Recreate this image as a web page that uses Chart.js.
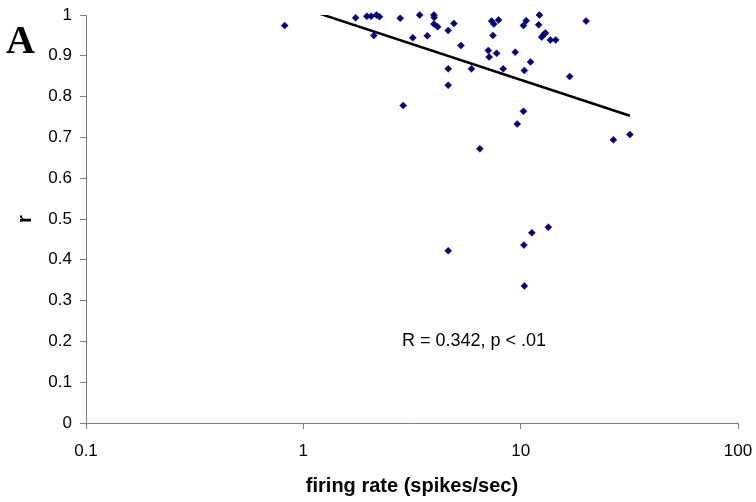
<!DOCTYPE html>
<html>
<head>
<meta charset="utf-8">
<script src="https://cdn.jsdelivr.net/npm/chart.js@4.4.1/dist/chart.umd.min.js"></script>
<style>
  html, body { margin: 0; padding: 0; background: #fff; }
  #wrap { width: 756px; height: 502px; position: relative; }
</style>
</head>
<body>
<div id="wrap"><canvas id="scatter"></canvas></div>
<script>
// firing rate (spikes/sec) per cell
var firingRate = [
    0.82, 1.74, 1.96, 2.05, 2.17, 2.24, 2.11, 2.79, 2.88, 3.19,
    3.43, 3.72, 3.99, 4.0, 3.99, 4.15, 4.64, 4.93, 5.31, 4.64,
    4.64, 5.94, 7.1, 7.16, 7.35, 7.53, 7.91, 7.45, 7.75, 8.31,
    9.44, 10.4, 11.1, 10.3, 10.6, 12.2, 12.1, 12.5, 12.8, 13.0,
    13.7, 14.5, 20.0, 16.8, 10.3, 9.64, 6.49, 26.7, 31.8, 4.64,
    10.35, 11.26, 13.4, 10.4
];
// correlation r per cell
var corrR = [
    0.974, 0.993, 0.997, 0.997, 1.0, 0.996, 0.950, 0.992, 0.778, 0.944,
    1.0, 0.949, 1.0, 0.994, 0.978, 0.971, 0.962, 0.979, 0.925, 0.868,
    0.828, 0.868, 0.913, 0.897, 0.985, 0.978, 0.988, 0.950, 0.906, 0.868,
    0.909, 0.864, 0.885, 0.974, 0.986, 1.0, 0.976, 0.946, 0.953, 0.956,
    0.939, 0.939, 0.985, 0.849, 0.764, 0.733, 0.672, 0.694, 0.707, 0.422,
    0.436, 0.466, 0.480, 0.336
];
// log trendline: r = a + b * log10(rate)
var trendA = 1.0164;
var trendB = -0.1753;
var xTicks = [0.1, 1, 10, 100];
var statText = 'R = 0.342, p < .01';
var statPos = { x: 6.1, y: 0.2 };

var FONT = "Arial, 'Liberation Sans', sans-serif";
var AXIS_GRAY = '#808080';

var points = [];
for (var i = 0; i < firingRate.length; i++) {
    points.push({ x: firingRate[i], y: corrR[i] });
}
var xMin = Math.min.apply(null, firingRate);
var xMax = Math.max.apply(null, firingRate);
var trend = [xMin, xMax].map(function (x) {
    return { x: x, y: trendA + trendB * Math.log10(x) };
});

// panel letter + the stat label inside the plot
var extras = {
    id: 'extras',
    afterDraw: function (chart) {
        var ctx = chart.ctx;
        ctx.save();
        ctx.fillStyle = '#000';
        ctx.font = "bold 40px 'Liberation Serif', 'Times New Roman', serif";
        ctx.textAlign = 'left';
        ctx.textBaseline = 'alphabetic';
        ctx.fillText('A', 6, 53);
        ctx.font = '18px ' + FONT;
        ctx.textAlign = 'center';
        ctx.textBaseline = 'middle';
        ctx.fillText(statText,
            chart.scales.x.getPixelForValue(statPos.x),
            chart.scales.y.getPixelForValue(statPos.y));
        ctx.restore();
    }
};

new Chart(document.getElementById('scatter'), {
    type: 'scatter',
    data: {
        datasets: [{
            label: 'cells',
            data: points,
            pointStyle: 'rectRot',
            pointRadius: 3.5,
            pointBorderWidth: 0.5,
            backgroundColor: '#000080',
            borderColor: '#000080',
            clip: false
        }, {
            type: 'line',
            label: 'trend',
            data: trend,
            borderColor: '#000',
            borderWidth: 2.5,
            pointRadius: 0,
            fill: false,
            clip: 0
        }]
    },
    options: {
        responsive: true,
        maintainAspectRatio: false,
        animation: false,
        layout: { padding: { top: 15, right: 18, left: 0, bottom: 0 } },
        plugins: {
            legend: { display: false },
            tooltip: { enabled: false }
        },
        scales: {
            x: {
                type: 'logarithmic',
                min: 0.1,
                max: 100,
                afterBuildTicks: function (scale) {
                    scale.ticks = xTicks.map(function (v) { return { value: v }; });
                },
                afterFit: function (scale) {
                    scale.height = 79;
                    scale.paddingLeft = 0;
                    scale.paddingRight = 0;
                },
                border: { display: true, color: AXIS_GRAY, width: 1 },
                grid: { drawOnChartArea: false, drawTicks: true, tickLength: 6, tickColor: AXIS_GRAY },
                ticks: {
                    color: '#000',
                    font: { family: FONT, size: 17 },
                    padding: 12,
                    maxRotation: 0,
                    autoSkip: false,
                    callback: function (v) { return String(v); }
                },
                title: {
                    display: true,
                    text: 'firing rate (spikes/sec)',
                    color: '#000',
                    font: { family: FONT, size: 20, weight: 'bold' },
                    padding: { top: 0, bottom: 4 }
                }
            },
            y: {
                min: 0,
                max: 1,
                afterFit: function (scale) {
                    scale.width = 86;
                    scale.paddingTop = 0;
                    scale.paddingBottom = 0;
                },
                border: { display: true, color: AXIS_GRAY, width: 1 },
                grid: { drawOnChartArea: false, drawTicks: true, tickLength: 6, tickColor: AXIS_GRAY },
                ticks: {
                    stepSize: 0.1,
                    color: '#000',
                    font: { family: FONT, size: 17 },
                    padding: 8,
                    callback: function (v) { return String(Math.round(v * 10) / 10); }
                },
                title: {
                    display: true,
                    text: 'r',
                    color: '#000',
                    font: { family: FONT, size: 20, weight: 'bold' },
                    padding: { top: 13, bottom: 0 }
                }
            }
        }
    },
    plugins: [extras]
});
</script>
</body>
</html>
